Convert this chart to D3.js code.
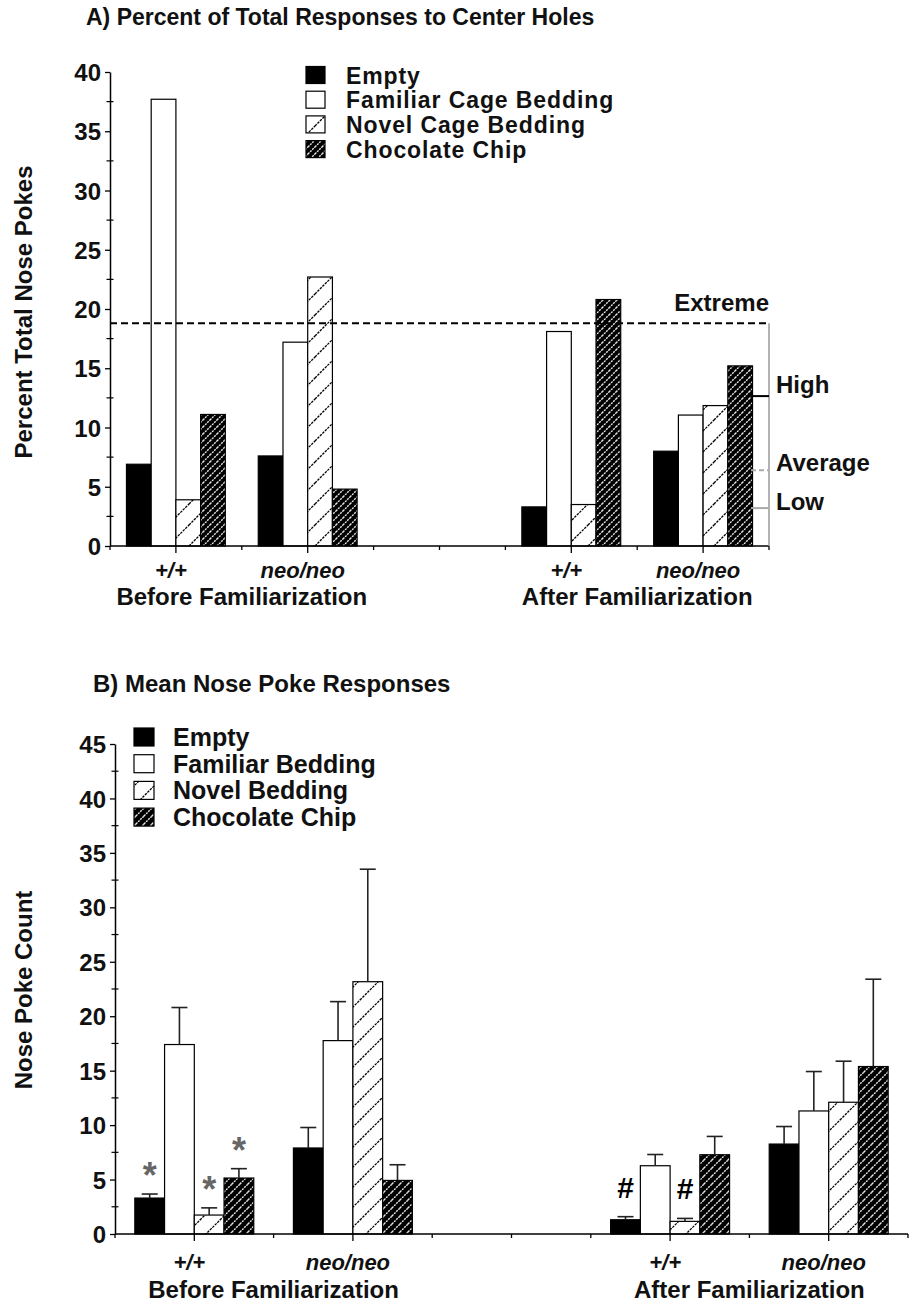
<!DOCTYPE html>
<html>
<head>
<meta charset="utf-8">
<script src="https://cdn.jsdelivr.net/npm/d3@7"></script>
<style>
  body { margin: 0; background: #fff; }
  svg text { font-family: "Liberation Sans", Arial, Helvetica, sans-serif; font-weight: bold; fill: #111; }
</style>
</head>
<body>
<div id="chart"></div>
<script>
// x layout: four genotype groups, with one empty slot between before and after
const groupKeys = ['before-wt', 'before-neo', 'after-wt', 'after-neo'];
const slotKeys = ['before-wt', 'before-neo', 'gap', 'after-wt', 'after-neo'];
const genotypeLabels = ['+/+', 'neo/neo', '+/+', 'neo/neo'];
const phaseLabels = ['Before Familiarization', 'After Familiarization'];

const seriesKeys = ['empty', 'familiar', 'novel', 'choc'];
const seriesNamesA = ['Empty', 'Familiar Cage Bedding', 'Novel Cage Bedding', 'Chocolate Chip'];
const seriesNamesB = ['Empty', 'Familiar Bedding', 'Novel Bedding', 'Chocolate Chip'];

// A) percent of total nose pokes (rows follow groupKeys, columns follow seriesKeys)
const percentValues = [
    [6.9, 37.7, 3.9, 11.1],
    [7.6, 17.2, 22.7, 4.8],
    [3.3, 18.1, 3.5, 20.8],
    [8.0, 11.05, 11.85, 15.2]
];
const levelNames = ['Extreme', 'High', 'Average', 'Low'];
const levelValues = [18.8, 12.65, 6.4, 3.2];
const yTicksA = [0, 5, 10, 15, 20, 25, 30, 35, 40];

// B) mean nose poke counts with SEM
const meanValues = [
    [3.3, 17.4, 1.74, 5.14],
    [7.9, 17.76, 23.17, 4.92],
    [1.31, 6.27, 1.16, 7.28],
    [8.26, 11.3, 12.1, 15.38]
];
const semValues = [
    [0.37, 3.4, 0.66, 0.86],
    [1.88, 3.58, 10.33, 1.44],
    [0.28, 1.03, 0.27, 1.68],
    [1.61, 3.62, 3.77, 8.02]
];
const sigMarks = [
    ['*', '', '*', '*'],
    ['', '', '', ''],
    ['#', '', '#', ''],
    ['', '', '', '']
];
const yTicksB = [0, 5, 10, 15, 20, 25, 30, 35, 40, 45];

const svg = d3.select('#chart').append('svg')
    .attr('width', 910)
    .attr('height', 1304);
const defs = svg.append('defs');

// diagonal "/" hatch, tile size = vertical spacing of the lines
const hatch = (id, size, bg, fg, sw, dash) => {
    const p = defs.append('pattern')
        .attr('id', id)
        .attr('patternUnits', 'userSpaceOnUse')
        .attr('width', size)
        .attr('height', size);
    p.append('rect').attr('width', size).attr('height', size).attr('fill', bg);
    p.append('path')
        .attr('d', `M0,${size}L${size},0M-1,1L1,-1M${size - 1},${size + 1}L${size + 1},${size - 1}`)
        .attr('stroke', fg)
        .attr('stroke-width', sw)
        .attr('stroke-dasharray', dash)
        .attr('fill', 'none');
};
hatch('novelA', 21, '#fff', '#000', 1.3, '2.5,1');
hatch('chocA', 7, '#000', '#e6e6e6', 1.4, '2,1');
hatch('novelB', 20, '#fff', '#000', 1.3, '2.5,1');
hatch('chocB', 8, '#000', '#e6e6e6', 1.4, '2,1');

const drawPanel = (o) => {
    const g = svg.append('g');
    const x = d3.scaleBand().domain(slotKeys).range([o.left, o.right]);
    const bw = x.bandwidth();
    const inner = d3.scaleBand().domain(seriesKeys).range([bw * 0.125, bw * 0.875]);
    const y = d3.scaleLinear().domain([0, d3.max(o.yTicks)]).range([o.base, o.top]);
    const fills = ['#000', '#fff', 'url(#' + o.novel + ')', 'url(#' + o.choc + ')'];
    const center = k => x(k) + bw / 2;

    // Title
    g.append('text')
        .attr('x', o.titleX)
        .attr('y', o.titleY)
        .style('font-size', o.titleSize + 'px')
        .text(o.title);

    // Y axis
    const yAxis = d3.axisLeft(y)
        .tickValues(o.yTicks)
        .tickSize(5)
        .tickSizeOuter(0)
        .tickPadding(4);
    const ya = g.append('g')
        .attr('transform', 'translate(' + o.left + ',0)')
        .call(yAxis);
    ya.select('.domain').attr('stroke', '#000').attr('stroke-width', 1.5);
    ya.selectAll('.tick line').attr('stroke', '#000').attr('stroke-width', 1.3);
    ya.selectAll('.tick text')
        .style('font-size', '24px')
        .style('font-family', '"Liberation Sans", Arial, sans-serif')
        .style('font-weight', 'bold')
        .attr('dy', '0.36em')
        .attr('fill', '#111');
    g.append('g').selectAll('line')
        .data(d3.pairs(o.yTicks).map(([a, b]) => (a + b) / 2))
        .enter().append('line')
        .attr('x1', o.left - 3.5)
        .attr('x2', o.left + 3.5)
        .attr('y1', d => y(d))
        .attr('y2', d => y(d))
        .attr('stroke', '#000')
        .attr('stroke-width', 1.2);

    g.append('text')
        .attr('transform', 'translate(32,' + o.yLabelY + ') rotate(-90)')
        .attr('text-anchor', 'middle')
        .style('font-size', '24px')
        .text(o.yLabel);

    // Bars
    const rows = groupKeys.flatMap((gk, i) => seriesKeys.map((sk, j) => ({
        group: gk,
        series: sk,
        fill: fills[j],
        value: o.values[i][j],
        sem: o.sem ? o.sem[i][j] : 0,
        mark: o.marks ? o.marks[i][j] : ''
    })));
    const barX = d => x(d.group) + inner(d.series);
    g.append('g').selectAll('rect')
        .data(rows)
        .enter().append('rect')
        .attr('x', barX)
        .attr('width', inner.bandwidth())
        .attr('y', d => y(d.value))
        .attr('height', d => o.base - y(d.value))
        .attr('fill', d => d.fill)
        .attr('stroke', '#000')
        .attr('stroke-width', 1.2);

    // Error bars and significance marks
    if (o.sem) {
        const eb = g.append('g').attr('stroke', '#222').attr('stroke-width', 1.6);
        rows.forEach(d => {
            const cx = barX(d) + inner.bandwidth() / 2;
            eb.append('line').attr('x1', cx).attr('x2', cx)
                .attr('y1', y(d.value)).attr('y2', y(d.value + d.sem));
            eb.append('line').attr('x1', cx - 8).attr('x2', cx + 8)
                .attr('y1', y(d.value + d.sem)).attr('y2', y(d.value + d.sem));
        });
        const lift = { '*': 6, '#': 19 };
        const size = { '*': 36, '#': 30 };
        g.append('g').selectAll('text')
            .data(rows.filter(d => d.mark))
            .enter().append('text')
            .attr('x', d => barX(d) + inner.bandwidth() / 2)
            .attr('y', d => y(d.value + d.sem) - lift[d.mark])
            .attr('text-anchor', 'middle')
            .style('font-size', d => size[d.mark] + 'px')
            .style('fill', d => d.mark === '*' ? '#666' : '#000')
            .text(d => d.mark);
    }

    // X axis
    g.append('line')
        .attr('x1', o.left).attr('x2', o.right)
        .attr('y1', o.base).attr('y2', o.base)
        .attr('stroke', '#000').attr('stroke-width', 1.5);
    const xticks = slotKeys.flatMap(k => [
        { pos: x(k), major: false },
        { pos: center(k), major: groupKeys.includes(k) }
    ]).concat([{ pos: o.right, major: false }]);
    g.append('g').selectAll('line')
        .data(xticks)
        .enter().append('line')
        .attr('x1', d => d.pos).attr('x2', d => d.pos)
        .attr('y1', o.base).attr('y2', d => o.base + (d.major ? 7 : 4))
        .attr('stroke', '#000').attr('stroke-width', 1.3);

    g.append('g').selectAll('text')
        .data(groupKeys)
        .enter().append('text')
        .attr('x', d => center(d) - 5)
        .attr('y', o.base + o.genoDy)
        .attr('text-anchor', 'middle')
        .style('font-size', '22px')
        .style('font-style', 'italic')
        .text((d, i) => genotypeLabels[i]);
    g.append('g').selectAll('text')
        .data(phaseLabels)
        .enter().append('text')
        .attr('x', (d, i) => (center(groupKeys[i * 2]) + center(groupKeys[i * 2 + 1])) / 2)
        .attr('y', o.base + o.phaseDy)
        .attr('text-anchor', 'middle')
        .style('font-size', '24px')
        .text(d => d);

    // Legend
    const lg = g.append('g');
    o.names.forEach((name, i) => {
        const by = o.legY + i * o.legStep;
        lg.append('rect')
            .attr('x', o.legX)
            .attr('y', by - o.sqH)
            .attr('width', o.sqW)
            .attr('height', o.sqH)
            .attr('fill', fills[i])
            .attr('stroke', '#000')
            .attr('stroke-width', 1.2);
        lg.append('text')
            .attr('x', o.legTextX)
            .attr('y', by)
            .style('font-size', o.legSize + 'px')
            .style('letter-spacing', o.legSpacing + 'px')
            .text(name);
    });

    return { x, y, g };
};

// Panel A
const pa = drawPanel({
    left: 110, right: 769, top: 72, base: 546,
    yTicks: yTicksA, values: percentValues,
    novel: 'novelA', choc: 'chocA',
    title: 'A)  Percent of Total Responses to Center Holes', titleX: 86, titleY: 25, titleSize: 23,
    yLabel: 'Percent Total Nose Pokes', yLabelY: 312,
    genoDy: 32, phaseDy: 59,
    names: seriesNamesA, legX: 306, legTextX: 346, legY: 83.5, legStep: 24.7, sqW: 19, sqH: 17,
    legSize: 23, legSpacing: 0.9
});

// reference levels on panel A
const yA = pa.y;
const right = 769;
pa.g.append('line')
    .attr('x1', 110).attr('x2', right)
    .attr('y1', yA(levelValues[0])).attr('y2', yA(levelValues[0]))
    .attr('stroke', '#000').attr('stroke-width', 2).attr('stroke-dasharray', '7,4');
pa.g.append('line')
    .attr('x1', right).attr('x2', right)
    .attr('y1', yA(levelValues[0])).attr('y2', yA(0))
    .attr('stroke', '#999').attr('stroke-width', 1.5);
const levelStyles = [null,
    { stroke: '#000', dash: null },
    { stroke: '#aaa', dash: '5,3' },
    { stroke: '#aaa', dash: null }];
levelValues.forEach((v, i) => {
    if (i > 0) {
        pa.g.append('line')
            .attr('x1', right - 18).attr('x2', right)
            .attr('y1', yA(v)).attr('y2', yA(v))
            .attr('stroke', levelStyles[i].stroke)
            .attr('stroke-width', 2)
            .attr('stroke-dasharray', levelStyles[i].dash);
    }
});
const labelDy = [-12, -3, 1, 2];
pa.g.append('g').selectAll('text')
    .data(levelNames)
    .enter().append('text')
    .attr('x', (d, i) => i === 0 ? right : right + 7)
    .attr('y', (d, i) => yA(levelValues[i]) + labelDy[i])
    .attr('text-anchor', (d, i) => i === 0 ? 'end' : 'start')
    .style('font-size', '24px')
    .text(d => d);

// Panel B
drawPanel({
    left: 115, right: 908, top: 744, base: 1234,
    yTicks: yTicksB, values: meanValues, sem: semValues, marks: sigMarks,
    novel: 'novelB', choc: 'chocB',
    title: 'B)  Mean Nose Poke Responses', titleX: 93, titleY: 692, titleSize: 24,
    yLabel: 'Nose Poke Count', yLabelY: 990,
    genoDy: 36, phaseDy: 64,
    names: seriesNamesB, legX: 134, legTextX: 173, legY: 746, legStep: 26.7, sqW: 20, sqH: 18,
    legSize: 25, legSpacing: 0
});
</script>
</body>
</html>
